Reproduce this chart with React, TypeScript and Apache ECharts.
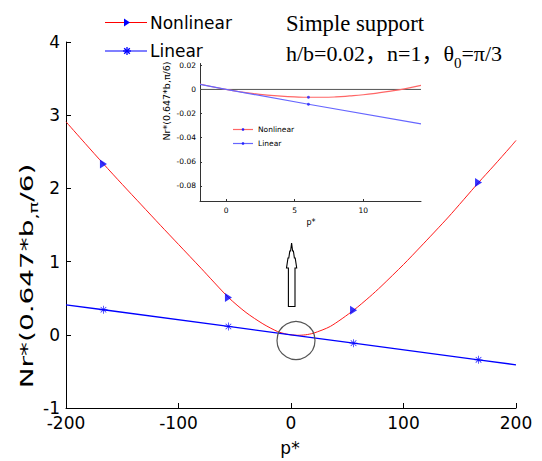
import React, { useEffect, useRef } from "react";
import * as echarts from "echarts";

// ---- main plot data ----
const nonlinearP = [-200, -183, -166.7, -150, -133, -116, -100, -80, -55.6, -40, -25, -12, -4, 0, 3, 6, 9, 13, 20, 35, 55.6, 70, 80, 100, 115, 140, 166.7, 180, 195, 200];
const nonlinearNr = [2.91, 2.615, 2.335, 2.055, 1.775, 1.495, 1.235, 0.91, 0.51, 0.305, 0.15, 0.045, 0.009, 0, -0.004, -0.0066, -0.0055, 0, 0.022, 0.115, 0.335, 0.52, 0.66, 0.96, 1.2, 1.61, 2.08, 2.305, 2.565, 2.655];
const nonlinearMarkerP = [-166.7, -55.6, 55.6, 166.7];
const nonlinearMarkerNr = [2.335, 0.51, 0.335, 2.08];
const linearP = [-200, -166.7, -55.6, 0, 55.6, 166.7, 200];
const linearNr = [0.41, 0.342, 0.114, 0, -0.114, -0.342, -0.41];
const linearMarkerP = [-166.7, -55.6, 55.6, 166.7];
const linearMarkerNr = [0.342, 0.114, -0.114, -0.342];
const xTicks = [-200, -100, 0, 100, 200];
const yTicks = [-1, 0, 1, 2, 3, 4];

// ---- inset data ----
const insetNonlinearP = [-1.9, -1, 0, 1, 2, 3, 4, 5, 6, 7, 8, 9, 10, 11, 12, 13, 14.2];
const insetNonlinearNr = [0.0045, 0.0022, 0, -0.0019, -0.0035, -0.0047, -0.0056, -0.0062, -0.0065, -0.0065, -0.0062, -0.0054, -0.0044, -0.003, -0.0014, 0.0005, 0.0033];
const insetLinearP = [-1.9, 0, 6, 14.2];
const insetLinearNr = [0.0042, 0, -0.0123, -0.0286];
const insetMarkerP = [6];
const insetNonlinearMarkerNr = [-0.0065];
const insetLinearMarkerNr = [-0.0123];
const insetZeroP = [-1.9, 14.2];
const insetZeroNr = [0, 0];
const insetXTicks = [0, 5, 10];
const insetYTicks = [-0.08, -0.06, -0.04, -0.02, 0, 0.02];

const SANS = "DejaVu Sans";
const SERIF = "Liberation Serif";
const CJK = "Noto Sans CJK SC";
const ASTERISK =
  "path://M9,0H11V20H9Z M0,9H20V11H0Z M2.3,3.7L3.7,2.3L17.7,16.3L16.3,17.7Z M16.3,2.3L17.7,3.7L3.7,17.7L2.3,16.3Z";

const pairs = (xs: number[], ys: number[]) => xs.map((x, i) => [x, ys[i]]);

function asteriskLines(cx: number, cy: number, r: number, color: string) {
  const d = r * 0.7071;
  const segs = [
    [cx - r, cy, cx + r, cy],
    [cx, cy - r, cx, cy + r],
    [cx - d, cy - d, cx + d, cy + d],
    [cx - d, cy + d, cx + d, cy - d],
  ];
  return segs.map((s) => ({
    type: "line",
    shape: { x1: s[0], y1: s[1], x2: s[2], y2: s[3] },
    style: { stroke: color, lineWidth: 1.3 },
    z: 10,
  }));
}

export default function App() {
  const ref = useRef<HTMLDivElement>(null);

  useEffect(() => {
    if (!ref.current) return;
    const chart = echarts.init(ref.current, undefined, { renderer: "svg" });

    const mainAxisLabel = { fontFamily: SANS, fontSize: 17, color: "#000" };
    const insetAxisLabel = { fontFamily: SANS, fontSize: 7.5, color: "#000" };

    const option: any = {
      animation: false,
      backgroundColor: "#fff",
      grid: [
        { left: 66, right: 26, top: 42, bottom: 53, containLabel: false },
        { left: 200, top: 63.5, width: 221, height: 137.5, containLabel: false },
      ],
      xAxis: [
        {
          gridIndex: 0,
          type: "value",
          min: -200,
          max: 200,
          interval: 100,
          axisLine: { onZero: false, lineStyle: { color: "#000", width: 1 } },
          axisTick: { inside: true, length: 5, lineStyle: { color: "#000" }, customValues: xTicks },
          axisLabel: { ...mainAxisLabel, margin: 6, customValues: xTicks },
          splitLine: { show: false },
        },
        {
          gridIndex: 1,
          type: "value",
          min: -1.9,
          max: 14.2,
          axisLine: { onZero: false, lineStyle: { color: "#333", width: 1 } },
          axisTick: { inside: true, length: 2, lineStyle: { color: "#333" }, customValues: insetXTicks },
          axisLabel: { ...insetAxisLabel, margin: 5, customValues: insetXTicks },
          splitLine: { show: false },
        },
      ],
      yAxis: [
        {
          gridIndex: 0,
          type: "value",
          min: -1,
          max: 4,
          interval: 1,
          axisLine: { show: true, onZero: false, lineStyle: { color: "#000", width: 1 } },
          axisTick: { show: true, inside: true, length: 5, lineStyle: { color: "#000" }, customValues: yTicks },
          axisLabel: { ...mainAxisLabel, margin: 6, customValues: yTicks },
          splitLine: { show: false },
        },
        {
          gridIndex: 1,
          type: "value",
          min: -0.0925,
          max: 0.0215,
          axisLine: { show: true, onZero: false, lineStyle: { color: "#333", width: 1 } },
          axisTick: { show: true, inside: true, length: 2, lineStyle: { color: "#333" }, customValues: insetYTicks },
          axisLabel: {
            ...insetAxisLabel,
            margin: 4,
            customValues: insetYTicks,
            formatter: (v: number) => (Math.abs(v) < 1e-9 ? "0" : v.toFixed(2)),
          },
          splitLine: { show: false },
        },
      ],
      series: [
        {
          name: "Nonlinear",
          type: "line",
          xAxisIndex: 0,
          yAxisIndex: 0,
          data: pairs(nonlinearP, nonlinearNr),
          symbol: "none",
          smooth: 0.25,
          lineStyle: { color: "#ff1a1a", width: 1 },
          z: 3,
        },
        {
          name: "Nonlinear markers",
          type: "scatter",
          xAxisIndex: 0,
          yAxisIndex: 0,
          data: pairs(nonlinearMarkerP, nonlinearMarkerNr),
          symbol: "triangle",
          symbolRotate: -90,
          symbolSize: [9, 7],
          itemStyle: { color: "#0000ff" },
          z: 5,
        },
        {
          name: "Linear",
          type: "line",
          xAxisIndex: 0,
          yAxisIndex: 0,
          data: pairs(linearP, linearNr),
          symbol: "none",
          lineStyle: { color: "#0000ff", width: 1.3 },
          z: 3,
        },
        {
          name: "Linear markers",
          type: "scatter",
          xAxisIndex: 0,
          yAxisIndex: 0,
          data: pairs(linearMarkerP, linearMarkerNr),
          symbol: ASTERISK,
          symbolSize: 8,
          itemStyle: { color: "#0000ff" },
          z: 5,
        },
        {
          name: "inset zero",
          type: "line",
          xAxisIndex: 1,
          yAxisIndex: 1,
          data: pairs(insetZeroP, insetZeroNr),
          symbol: "none",
          lineStyle: { color: "#555", width: 1 },
          z: 2,
        },
        {
          name: "inset Nonlinear",
          type: "line",
          xAxisIndex: 1,
          yAxisIndex: 1,
          data: pairs(insetNonlinearP, insetNonlinearNr),
          symbol: "none",
          smooth: true,
          lineStyle: { color: "#ff6666", width: 1.2 },
          z: 3,
        },
        {
          name: "inset Linear",
          type: "line",
          xAxisIndex: 1,
          yAxisIndex: 1,
          data: pairs(insetLinearP, insetLinearNr),
          symbol: "none",
          lineStyle: { color: "#6666ff", width: 1.2 },
          z: 3,
        },
        {
          name: "inset markers",
          type: "scatter",
          xAxisIndex: 1,
          yAxisIndex: 1,
          data: [...pairs(insetMarkerP, insetNonlinearMarkerNr), ...pairs(insetMarkerP, insetLinearMarkerNr)],
          symbol: "circle",
          symbolSize: 3,
          itemStyle: { color: "#2222ff" },
          z: 5,
        },
      ],
      graphic: [
        // main legend
        { type: "line", shape: { x1: 105, y1: 22.5, x2: 147, y2: 22.5 }, style: { stroke: "#ff0000", lineWidth: 1.2 }, z: 10 },
        { type: "polygon", shape: { points: [[124, 18.5], [124, 26.5], [130, 22.5]] }, style: { fill: "#0000ff" }, z: 11 },
        { type: "text", x: 150, y: 22.5, style: { text: "Nonlinear", fontFamily: SANS, fontSize: 17, fill: "#000", verticalAlign: "middle" }, z: 10 },
        { type: "line", shape: { x1: 105, y1: 51, x2: 147, y2: 51 }, style: { stroke: "#5555ff", lineWidth: 1.5 }, z: 10 },
        ...asteriskLines(127, 51, 4, "#0000ff"),
        { type: "text", x: 150, y: 51, style: { text: "Linear", fontFamily: SANS, fontSize: 17, fill: "#000", verticalAlign: "middle" }, z: 10 },
        // title
        { type: "text", x: 286, y: 23.5, style: { text: "Simple support", fontFamily: SERIF, fontSize: 22.7, fill: "#000", verticalAlign: "middle" }, z: 10 },
        {
          type: "text",
          x: 286,
          y: 52,
          style: {
            text: "{a|h/b=0.02}{c|，}{a|n=1}{c|，}{a|θ}{s|0}{a|=π/3}",
            verticalAlign: "middle",
            rich: {
              a: { fontFamily: SERIF, fontSize: 22, fill: "#000", verticalAlign: "bottom" },
              c: { fontFamily: CJK, fontSize: 22, fill: "#000", verticalAlign: "bottom", padding: [0, 0, 2, 0] },
              s: { fontFamily: SERIF, fontSize: 15, fill: "#000", verticalAlign: "bottom", padding: [0, 0, -6, 0] },
            },
          },
          z: 10,
        },
        // main y axis label (stretched along its length, as in the reference)
        {
          type: "text",
          x: 27,
          y: 276,
          rotation: Math.PI / 2,
          scaleX: 1.55,
          style: {
            text: "{a|Nr*(0.647*b}{s|,π}{a|/6)}",
            align: "center",
            verticalAlign: "middle",
            rich: {
              a: { fontFamily: SANS, fontSize: 18, fill: "#000", verticalAlign: "bottom" },
              s: { fontFamily: SANS, fontSize: 12.5, fill: "#000", verticalAlign: "bottom", padding: [0, 0, -4, 0] },
            },
          },
          z: 10,
        },
        // main x axis label
        { type: "text", x: 290, y: 448, style: { text: "p*", fontFamily: SANS, fontSize: 17, fill: "#000", align: "center", verticalAlign: "middle" }, z: 10 },
        // inset axis labels
        { type: "text", x: 311, y: 222, style: { text: "p*", fontFamily: SANS, fontSize: 8, fill: "#000", align: "center", verticalAlign: "middle" }, z: 10 },
        {
          type: "text",
          x: 166,
          y: 101,
          rotation: Math.PI / 2,
          style: { text: "Nr*(0.647*b,π/6)", fontFamily: SANS, fontSize: 9.5, fill: "#000", align: "center", verticalAlign: "middle" },
          z: 10,
        },
        // inset legend
        { type: "line", shape: { x1: 233, y1: 129.5, x2: 253, y2: 129.5 }, style: { stroke: "#ff6666", lineWidth: 1.2 }, z: 10 },
        { type: "circle", shape: { cx: 243, cy: 129.5, r: 1.3 }, style: { fill: "#2222ff" }, z: 11 },
        { type: "text", x: 258, y: 129.5, style: { text: "Nonlinear", fontFamily: SANS, fontSize: 7.5, fill: "#000", verticalAlign: "middle" }, z: 10 },
        { type: "line", shape: { x1: 233, y1: 143.5, x2: 253, y2: 143.5 }, style: { stroke: "#6666ff", lineWidth: 1.2 }, z: 10 },
        { type: "circle", shape: { cx: 243, cy: 143.5, r: 1.3 }, style: { fill: "#2222ff" }, z: 11 },
        { type: "text", x: 258, y: 143.5, style: { text: "Linear", fontFamily: SANS, fontSize: 7.5, fill: "#000", verticalAlign: "middle" }, z: 10 },
        // circle around origin
        { type: "circle", shape: { cx: 296, cy: 340.5, r: 19 }, style: { fill: "none", stroke: "#555", lineWidth: 1.2 }, z: 9 },
        // hollow arrow
        {
          type: "polygon",
          shape: {
            points: [
              [291.6, 243],
              [290.6, 251],
              [289.8, 251],
              [288.8, 258],
              [288, 258],
              [286.5, 268],
              [288.4, 268],
              [288.4, 306.5],
              [295, 306.5],
              [295, 268],
              [296.7, 268],
              [295.2, 258],
              [294.4, 258],
              [293.4, 251],
              [292.6, 251],
            ],
          },
          style: { fill: "#fff", stroke: "#000", lineWidth: 1.1 },
          z: 9,
        },
      ],
    };

    chart.setOption(option);
    return () => chart.dispose();
  }, []);

  return <div ref={ref} style={{ position: "fixed", left: 0, top: 0, width: 542, height: 461 }} />;
}
